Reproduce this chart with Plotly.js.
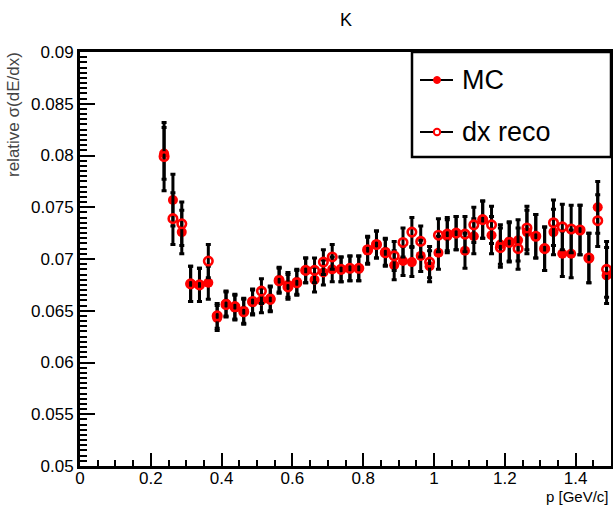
<!DOCTYPE html>
<html>
<head>
<meta charset="utf-8">
<script src="https://cdn.plot.ly/plotly-3.0.1.min.js"></script>
<style>html,body{margin:0;padding:0;background:#fff;}#chart{width:613px;height:508px;}</style>
</head>
<body>
<div id="chart"></div>
<script>
// bin centres p [GeV/c]
var pBins = [0.2375,0.2625,0.2875,0.3125,0.3375,0.3625,0.3875,0.4125,0.4375,0.4625,
  0.4875,0.5125,0.5375,0.5625,0.5875,0.6125,0.6375,0.6625,0.6875,0.7125,
  0.7375,0.7625,0.7875,0.8125,0.8375,0.8625,0.8875,0.9125,0.9375,0.9625,
  0.9875,1.0125,1.0375,1.0625,1.0875,1.1125,1.1375,1.1625,1.1875,1.2125,
  1.2375,1.2625,1.2875,1.3125,1.3375,1.3625,1.3875,1.4125,1.4375,1.4625,1.4875];
// MC values
var mcVals = [0.0802,0.0757,0.0726,0.0676,0.0675,0.0677,0.0643,0.0657,0.0653,0.0650,
  0.0658,0.0660,0.0662,0.0680,0.0675,0.0678,0.0689,0.0680,0.0687,0.0690,
  0.0690,0.0691,0.0691,0.0708,0.0714,0.0707,0.0694,0.0698,0.0697,0.0703,
  0.0693,0.0706,0.0722,0.0725,0.0708,0.0722,0.0738,0.0723,0.0714,0.0717,
  0.0718,0.0726,0.0722,0.0710,0.0726,0.0705,0.0705,0.0728,0.0701,0.0750,0.0684];
var mcErr = [0.0025,0.0025,0.0021,0.0017,0.0016,0.0016,0.0012,0.0012,0.0012,0.0012,
  0.0012,0.0012,0.0012,0.0012,0.0012,0.0012,0.0012,0.0012,0.0012,0.0012,
  0.0012,0.0012,0.0012,0.0013,0.0013,0.0013,0.0014,0.0014,0.0014,0.0015,
  0.0015,0.0016,0.0016,0.0016,0.0017,0.0017,0.0018,0.0018,0.0019,0.0019,
  0.0020,0.0021,0.0021,0.0021,0.0022,0.0022,0.0023,0.0024,0.0024,0.0025,0.0027];
// dx reco values
var recoVals = [0.0799,0.0739,0.0734,0.0676,0.0675,0.0698,0.0645,0.0656,0.0654,0.0649,
  0.0659,0.0669,0.0661,0.0679,0.0673,0.0677,0.0689,0.0689,0.0697,0.0702,
  0.0690,0.0691,0.0691,0.0709,0.0714,0.0706,0.0703,0.0716,0.0726,0.0717,
  0.0697,0.0723,0.0724,0.0725,0.0724,0.0733,0.0738,0.0733,0.0711,0.0716,
  0.0710,0.0730,0.0722,0.0710,0.0735,0.0731,0.0729,0.0728,0.0701,0.0737,0.0690];
var recoErr = [0.0033,0.0025,0.0021,0.0017,0.0016,0.0016,0.0012,0.0012,0.0012,0.0012,
  0.0012,0.0012,0.0012,0.0012,0.0012,0.0012,0.0012,0.0012,0.0012,0.0012,
  0.0012,0.0012,0.0012,0.0013,0.0013,0.0013,0.0014,0.0014,0.0014,0.0015,
  0.0015,0.0016,0.0016,0.0016,0.0017,0.0017,0.0018,0.0018,0.0019,0.0019,
  0.0020,0.0021,0.0021,0.0021,0.0022,0.0022,0.0023,0.0024,0.0024,0.0025,0.0027];
var seriesNames = ['MC', 'dx reco'];

var W = 613, H = 508, L = 80, R = 2, T = 52, B = 42;
var pw = W - L - R, ph = H - T - B;
function px(x){ return (x - L) / pw; }
function py(y){ return (H - B - y) / ph; }

var traces = [
  {x: pBins, y: mcVals, type: 'scatter', mode: 'markers', name: seriesNames[0], showlegend: false,
   marker: {symbol: 'circle', size: 10, color: '#ff0000'},
   error_y: {type: 'data', array: mcErr, visible: true, color: '#000', thickness: 3, width: 2.5}},
  {x: pBins, y: recoVals, type: 'scatter', mode: 'markers', name: seriesNames[1], showlegend: false,
   marker: {symbol: 'circle-open', size: 8.5, color: '#ff0000', line: {width: 2.6, color: '#ff0000'}},
   error_y: {type: 'data', array: recoErr, visible: true, color: '#000', thickness: 3, width: 2.5}}
];

var font = 'Liberation Sans, Arial, Helvetica, sans-serif';
var shapes = [
  {type: 'rect', xref: 'paper', yref: 'paper', x0: px(412), x1: 1, y0: py(157), y1: 1,
   line: {color: '#000', width: 2.5}, fillcolor: '#fff', layer: 'above'},
  {type: 'line', xref: 'paper', yref: 'paper', x0: px(420), x1: px(453), y0: py(80), y1: py(80),
   line: {color: '#000', width: 2}, layer: 'above'},
  {type: 'line', xref: 'paper', yref: 'paper', x0: px(420), x1: px(453), y0: py(132), y1: py(132),
   line: {color: '#000', width: 2}, layer: 'above'},
  {type: 'circle', xref: 'paper', yref: 'paper', xsizemode: 'pixel', ysizemode: 'pixel',
   xanchor: px(437), yanchor: py(80), x0: -3.5, x1: 3.5, y0: -3.5, y1: 3.5,
   fillcolor: '#ff0000', line: {color: '#ff0000', width: 1}, layer: 'above'},
  {type: 'circle', xref: 'paper', yref: 'paper', xsizemode: 'pixel', ysizemode: 'pixel',
   xanchor: px(437), yanchor: py(132), x0: -3.2, x1: 3.2, y0: -3.2, y1: 3.2,
   fillcolor: '#fff', line: {color: '#ff0000', width: 2}, layer: 'above'}
];

var annotations = [
  {text: seriesNames[0], xref: 'paper', yref: 'paper', x: px(460), y: py(80), xanchor: 'left', yanchor: 'middle',
   showarrow: false, font: {family: font, size: 27, color: '#000'}},
  {text: seriesNames[1], xref: 'paper', yref: 'paper', x: px(460), y: py(132), xanchor: 'left', yanchor: 'middle',
   showarrow: false, font: {family: font, size: 27, color: '#000'}},
  {text: 'p [GeV/c]', xref: 'paper', yref: 'paper', x: 1, y: py(496), xanchor: 'right', yanchor: 'middle',
   showarrow: false, font: {family: font, size: 15, color: '#000'}},
  {text: 'relative σ(dE/dx)', xref: 'paper', yref: 'paper', x: px(13), y: py(115), xanchor: 'center', yanchor: 'middle',
   textangle: -90, showarrow: false, font: {family: font, size: 17, color: '#444'}}
];

var layout = {
  width: W, height: H,
  margin: {l: L, r: R, t: T, b: B, pad: 0},
  paper_bgcolor: '#fff', plot_bgcolor: '#fff',
  showlegend: false,
  title: {text: 'K', x: 346 / W, xanchor: 'center', y: 1 - 20 / H, yanchor: 'middle',
          font: {family: font, size: 18, color: '#000'}},
  xaxis: {range: [0, 1.5], dtick: 0.2, tick0: 0, ticks: 'inside', ticklen: 13, tickwidth: 2, tickcolor: '#000',
          ticklabelstandoff: -5,
          showline: true, linewidth: 3, linecolor: '#000', mirror: true, showgrid: false, zeroline: false,
          minor: {dtick: 0.05, ticks: 'inside', ticklen: 6, tickwidth: 2, tickcolor: '#000', showgrid: false},
          tickfont: {family: font, size: 17, color: '#000'}, fixedrange: true},
  yaxis: {range: [0.05, 0.09], dtick: 0.005, tick0: 0.05, ticks: 'inside', ticklen: 15, tickwidth: 2, tickcolor: '#000',
          showline: true, linewidth: 3, linecolor: '#000', mirror: true, showgrid: false, zeroline: false,
          minor: {dtick: 0.0005, ticks: 'inside', ticklen: 7, tickwidth: 2, tickcolor: '#000', showgrid: false},
          tickfont: {family: font, size: 17, color: '#000'}, fixedrange: true},
  shapes: shapes,
  annotations: annotations
};

Plotly.newPlot('chart', traces, layout, {displayModeBar: false, staticPlot: true});
</script>
</body>
</html>
